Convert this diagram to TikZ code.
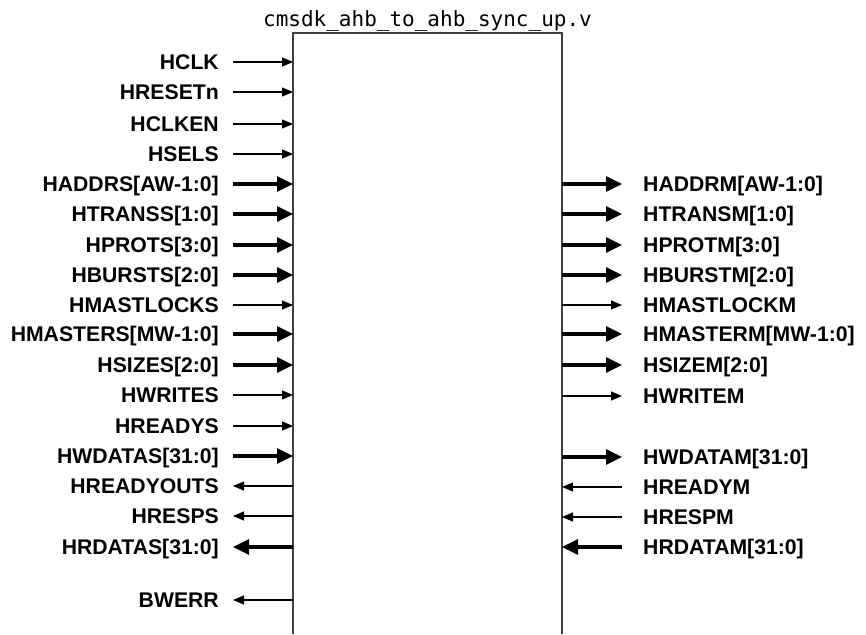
\documentclass[tikz,border=0pt]{standalone}
\usepackage{fontspec}
\setmainfont{Liberation Sans}
\setmonofont{DejaVu Sans Mono}
\usepackage{tikz}
\usetikzlibrary{positioning, arrows.meta}

\begin{document}
\begin{tikzpicture}[x=1pt, y=-1pt,
    signame/.style={font=\fontsize{21.2}{23}\selectfont\bfseries, inner sep=0pt},
    wirearr/.style={-{Triangle[length=11pt, width=9pt]}, line width=1.1pt},
    busarr/.style={-{Triangle[length=16pt, width=15pt]}, line width=3.2pt},
    boxline/.style={line width=1.4pt, black!75}
]
\useasboundingbox (0,0) rectangle (866,634);

% block outline, open at the bottom
\coordinate (bl) at (293,634);
\coordinate (tl) at (293,33);
\coordinate (tr) at (562,33);
\coordinate (br) at (562,634);
\draw[boxline] (bl) -- (tl) -- (tr) -- (br);
\node[font=\fontsize{21}{23}\selectfont\ttfamily, inner sep=0pt, anchor=base] (title) at (427.5,27) {cmsdk\_ahb\_to\_ahb\_sync\_up.v};

% slave side inputs
\foreach \y/\sig/\w [count=\i] in {62/HCLK/wirearr, 92/HRESETn/wirearr, 124/HCLKEN/wirearr, 154/HSELS/wirearr,
    184/{HADDRS[AW-1:0]}/busarr, 214/{HTRANSS[1:0]}/busarr, 245/{HPROTS[3:0]}/busarr, 275/{HBURSTS[2:0]}/busarr,
    305/HMASTLOCKS/wirearr, 334/{HMASTERS[MW-1:0]}/busarr, 365/{HSIZES[2:0]}/busarr, 395/HWRITES/wirearr,
    426/HREADYS/wirearr, 456/{HWDATAS[31:0]}/busarr} {
    \node[signame, anchor=base east] (si\i) at (219,\y+7.5) {\sig};
    \coordinate (sia\i) at (233,\y);
    \coordinate (sib\i) at (293,\y);
    \draw[\w] (sia\i) -- (sib\i);
}

% slave side outputs
\foreach \y/\sig/\w [count=\i] in {486/HREADYOUTS/wirearr, 516/HRESPS/wirearr, 547/{HRDATAS[31:0]}/busarr, 600/BWERR/wirearr} {
    \node[signame, anchor=base east] (so\i) at (219,\y+7.5) {\sig};
    \coordinate (soa\i) at (233,\y);
    \coordinate (sob\i) at (293,\y);
    \draw[\w] (sob\i) -- (soa\i);
}

% master side outputs
\foreach \y/\sig/\w [count=\i] in {184/{HADDRM[AW-1:0]}/busarr, 214/{HTRANSM[1:0]}/busarr, 245/{HPROTM[3:0]}/busarr,
    275/{HBURSTM[2:0]}/busarr, 305/HMASTLOCKM/wirearr, 334/{HMASTERM[MW-1:0]}/busarr, 365/{HSIZEM[2:0]}/busarr,
    396/HWRITEM/wirearr, 457/{HWDATAM[31:0]}/busarr} {
    \node[signame, anchor=base west] (mo\i) at (643,\y+7.5) {\sig};
    \coordinate (moa\i) at (562,\y);
    \coordinate (mob\i) at (622,\y);
    \draw[\w] (moa\i) -- (mob\i);
}

% master side inputs
\foreach \y/\sig/\w [count=\i] in {487/HREADYM/wirearr, 517/HRESPM/wirearr, 547/{HRDATAM[31:0]}/busarr} {
    \node[signame, anchor=base west] (mi\i) at (643,\y+7.5) {\sig};
    \coordinate (mia\i) at (562,\y);
    \coordinate (mib\i) at (622,\y);
    \draw[\w] (mib\i) -- (mia\i);
}

\end{tikzpicture}
\end{document}
